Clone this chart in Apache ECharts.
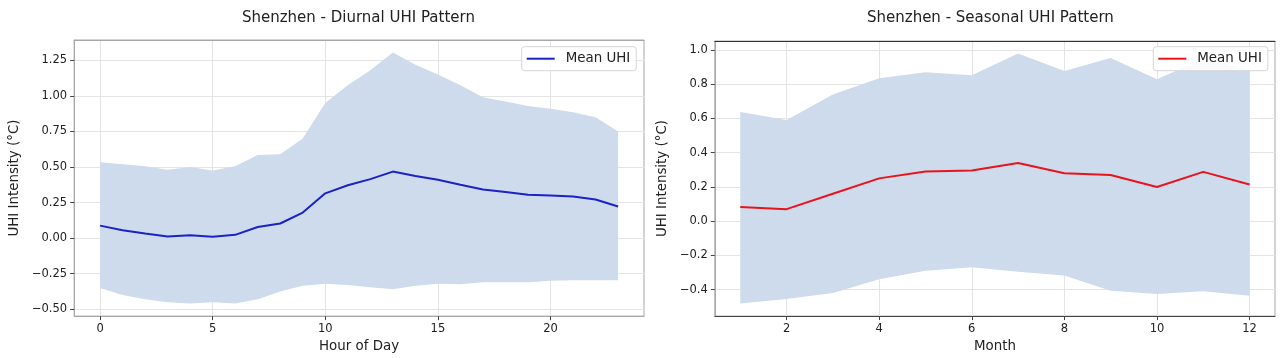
<!DOCTYPE html>
<html><head><meta charset="utf-8">
<script src="https://cdn.jsdelivr.net/npm/echarts@6/dist/echarts.min.js"></script>
<style>
html,body{margin:0;padding:0;background:#fff;width:1283px;height:358px;overflow:hidden}
#l{position:absolute;left:0;top:0;width:648px;height:358px}
#r{position:absolute;left:648px;top:0;width:635px;height:358px}
</style>
</head><body><div id="l"></div><div id="r"></div>
<script>
// ---- data ----
const hours = [0,1,2,3,4,5,6,7,8,9,10,11,12,13,14,15,16,17,18,19,20,21,22,23];
const diurnalMean  = [0.088,0.055,0.032,0.011,0.020,0.009,0.023,0.078,0.103,0.180,0.315,0.372,0.415,0.468,0.437,0.410,0.375,0.342,0.325,0.305,0.300,0.292,0.272,0.222];
const diurnalLower = [-0.350,-0.400,-0.430,-0.450,-0.460,-0.450,-0.460,-0.430,-0.375,-0.335,-0.320,-0.330,-0.345,-0.360,-0.335,-0.320,-0.325,-0.310,-0.310,-0.310,-0.300,-0.297,-0.296,-0.296];
const diurnalUpper = [0.534,0.520,0.505,0.480,0.500,0.475,0.505,0.585,0.590,0.700,0.950,1.075,1.180,1.305,1.220,1.150,1.075,0.990,0.960,0.930,0.910,0.886,0.850,0.750];
const months = [1,2,3,4,5,6,7,8,9,10,11,12];
const seasonalMean  = [0.083,0.070,0.160,0.250,0.290,0.296,0.340,0.280,0.270,0.200,0.288,0.214];
const seasonalLower = [-0.482,-0.455,-0.420,-0.340,-0.290,-0.270,-0.296,-0.318,-0.407,-0.426,-0.410,-0.436];
const seasonalUpper = [0.638,0.592,0.740,0.836,0.870,0.853,0.980,0.877,0.953,0.830,0.950,0.883];
const diurnalXTicks = [0,5,10,15,20];
const diurnalYTicks = [-0.5,-0.25,0,0.25,0.5,0.75,1.0,1.25];
const seasonalXTicks = [2,4,6,8,10,12];
const seasonalYTicks = [-0.4,-0.2,0,0.2,0.4,0.6,0.8,1.0];

const FONT = 'DejaVu Sans';
const TXT = '#222';

function pad(lo, hi){ const s = (hi - lo) * 0.05; return [lo - s, hi + s]; }
function fmt(d){ return v => (v < 0 ? '\u2212' : '') + Math.abs(v).toFixed(d); }

function build(cfg){
  const xr = pad(Math.min(...cfg.x), Math.max(...cfg.x));
  const yr = pad(Math.min(...cfg.lower), Math.max(...cfg.upper));
  const bandData = cfg.x.map((x,i)=>[x,cfg.lower[i],cfg.upper[i]]);
  const meanData = cfg.x.map((x,i)=>[x,cfg.mean[i]]);
  const axisCommon = {
    splitLine:{show:true,lineStyle:{color:'#e4e4e4',width:1}},
    axisTick:{show:true,length:4,lineStyle:{color:'#444'}},
    axisLabel:{fontFamily:FONT,fontSize:11.5,color:TXT,margin:7},
    nameTextStyle:{fontFamily:FONT,fontSize:13.4,color:TXT}
  };
  return {
    animation:false,
    backgroundColor:'#fff',
    title:{text:cfg.title,left:cfg.titleX,top:11,textAlign:'center',padding:0,
      textStyle:{fontFamily:FONT,fontSize:15,fontWeight:'normal',color:TXT}},
    legend:{data:['Mean UHI'],left:cfg.legX,top:46.7,itemWidth:28,itemHeight:2,icon:'rect',
      padding:[4,6,4,5],backgroundColor:'rgba(255,255,255,0.85)',borderColor:'#d6d6d6',
      borderWidth:1,borderRadius:3,
      textStyle:{fontFamily:FONT,fontSize:13.4,color:TXT,padding:[0,0,0,6],lineHeight:16}},
    grid:{left:cfg.grid[0],right:cfg.grid[1],top:cfg.grid[2],bottom:cfg.grid[3],
      show:true,borderColor:'#a8a8a8',borderWidth:1,backgroundColor:'transparent'},
    xAxis:[Object.assign({},axisCommon,{
      type:'value',min:xr[0],max:xr[1],name:cfg.xName,nameLocation:'middle',nameGap:20,
      axisLine:{show:true,onZero:false,lineStyle:{color:cfg.bottomColor,width:1}},
      axisTick:Object.assign({},axisCommon.axisTick,{customValues:cfg.xTicks}),
      axisLabel:Object.assign({},axisCommon.axisLabel,{customValues:cfg.xTicks,formatter:v=>String(v)})
    }),{
      type:'value',position:'top',min:xr[0],max:xr[1],
      axisLine:{show:true,onZero:false,lineStyle:{color:cfg.topColor,width:1}},
      axisTick:{show:false},axisLabel:{show:false},splitLine:{show:false}
    }],
    yAxis:Object.assign({},axisCommon,{
      type:'value',min:yr[0],max:yr[1],name:'UHI Intensity (°C)',nameLocation:'middle',nameGap:cfg.yNameGap,
      axisLine:{show:true,onZero:false,lineStyle:{color:'#a8a8a8',width:1}},
      axisTick:Object.assign({},axisCommon.axisTick,{customValues:cfg.yTicks}),
      axisLabel:Object.assign({},axisCommon.axisLabel,{customValues:cfg.yTicks,formatter:fmt(cfg.dec)})
    }),
    series:[
      {name:'band',type:'custom',data:bandData,encode:{x:0,y:[1,2]},silent:true,z:1,
        renderItem:(params, api)=>{
          if (params.dataIndex !== 0) return null;
          const pts = [];
          for (let i = 0; i < bandData.length; i++) pts.push(api.coord([bandData[i][0], bandData[i][2]]));
          for (let i = bandData.length - 1; i >= 0; i--) pts.push(api.coord([bandData[i][0], bandData[i][1]]));
          return {type:'polygon',shape:{points:pts},style:{fill:'#cddbec'}};
        }},
      {name:'Mean UHI',type:'line',data:meanData,symbol:'none',
        lineStyle:{color:cfg.color,width:2},itemStyle:{color:cfg.color},z:3}
    ]
  };
}

const left = echarts.init(document.getElementById('l'), null, {renderer:'canvas'});
left.setOption(build({
  x:hours, mean:diurnalMean, lower:diurnalLower, upper:diurnalUpper,
  title:'Shenzhen - Diurnal UHI Pattern', titleX:358.4, legX:521.7,
  grid:[72.7,4,40,34], xName:'Hour of Day', yNameGap:46, dec:2,
  xTicks:diurnalXTicks, yTicks:diurnalYTicks, color:'#1c22c4',
  bottomColor:'#a8a8a8', topColor:'#a8a8a8'
}));
const right = echarts.init(document.getElementById('r'), null, {renderer:'canvas'});
right.setOption(build({
  x:months, mean:seasonalMean, lower:seasonalLower, upper:seasonalUpper,
  title:'Shenzhen - Seasonal UHI Pattern', titleX:342.4, legX:505.3,
  grid:[57.7,8,41,34], xName:'Month', yNameGap:37, dec:1,
  xTicks:seasonalXTicks, yTicks:seasonalYTicks, color:'#e8141c',
  bottomColor:'#444', topColor:'#333'
}));
</script>
</body></html>
